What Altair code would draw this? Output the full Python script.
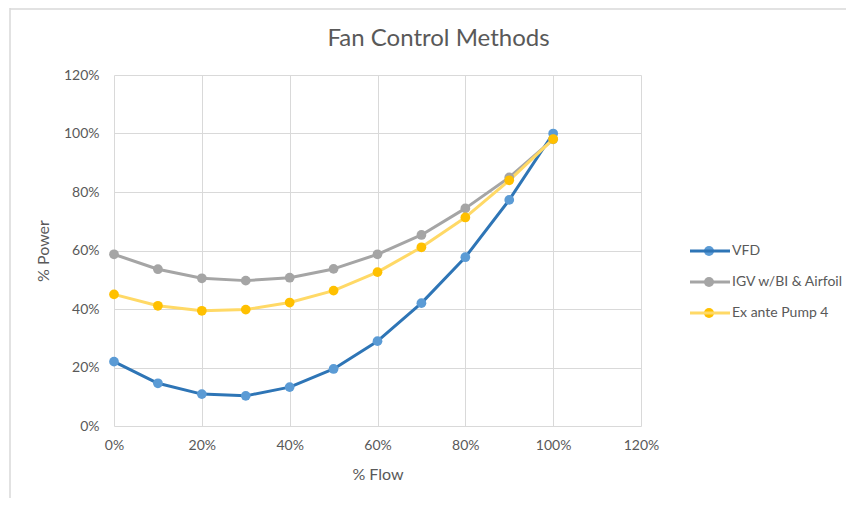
import altair as alt
import pandas as pd

# ---- data ----
flow = [0.0, 0.1, 0.2, 0.3, 0.4, 0.5, 0.6, 0.7, 0.8, 0.9, 1.0]
series_names = ["VFD", "IGV w/BI & Airfoil", "Ex ante Pump 4"]
vfd = [22.0, 14.6, 10.9, 10.3, 13.3, 19.5, 29.0, 42.0, 57.7, 77.3, 100.0]
igv = [58.7, 53.6, 50.5, 49.7, 50.7, 53.7, 58.7, 65.3, 74.4, 85.0, 98.0]
exante = [45.0, 41.1, 39.4, 39.8, 42.2, 46.3, 52.6, 61.1, 71.3, 84.0, 98.1]
tick_values = [0.0, 0.2, 0.4, 0.6, 0.8, 1.0, 1.2]

line_colors = ["#2e75b6", "#a5a5a5", "#ffd966"]
point_colors = ["#5b9bd5", "#a5a5a5", "#ffc000"]

rows = []
for k, (name, vals) in enumerate(zip(series_names, [vfd, igv, exante])):
    for f, v in zip(flow, vals):
        rows.append({"series": name, "order": k, "flow": f, "power": v / 100.0})
df = pd.DataFrame(rows)

FONT = "Lato"
TXT = "#595959"
GRID = "#d9d9d9"
FRAME = "#d9d9d9"

x = alt.X(
    "flow:Q",
    scale=alt.Scale(domain=[0, 1.2], nice=False),
    axis=alt.Axis(values=tick_values, format=".0%", title="% Flow",
                  grid=True, gridColor=GRID, domain=False, ticks=False,
                  labelFlush=False, labelPadding=12, titlePadding=14),
)
y = alt.Y(
    "power:Q",
    scale=alt.Scale(domain=[0, 1.2], nice=False),
    axis=alt.Axis(values=tick_values, format=".0%", title="% Power",
                  grid=True, gridColor=GRID, domain=False, ticks=False,
                  labelFlush=False, labelPadding=15, titlePadding=12),
)

base = alt.Chart(df).encode(x=x, y=y, order=alt.Order("order:Q"))

LINE_SYMBOL = "M-4,0H4"

lines = base.mark_line(strokeWidth=3, strokeCap="round", strokeJoin="round").encode(
    color=alt.Color(
        "series:N",
        sort=series_names,
        scale=alt.Scale(domain=series_names, range=line_colors),
        legend=alt.Legend(orient="none", legendX=589, legendY=169, title=None,
                          symbolType=LINE_SYMBOL, symbolSize=100, symbolStrokeWidth=3,
                          labelFont=FONT, labelFontSize=14, labelColor=TXT,
                          labelOffset=15, rowPadding=17, padding=0),
    ),
    detail="series:N",
)

points = base.mark_point(filled=True, size=95, opacity=1, shape="circle").encode(
    fill=alt.Fill(
        "series:N",
        sort=series_names,
        scale=alt.Scale(domain=series_names, range=point_colors),
        legend=alt.Legend(orient="none", legendX=588, legendY=169, title=None,
                          symbolType="circle", symbolSize=100, symbolStrokeWidth=0,
                          labelFont=FONT, labelFontSize=14, labelOpacity=0,
                          labelOffset=15, rowPadding=17, padding=0),
    ),
)

# light outer chart frame (decoration, left and top edges)
frame_src = alt.Chart(alt.Data(values=[{"k": 0}]))
frame_left = frame_src.mark_rule(color=FRAME, strokeWidth=1.5).encode(
    x=alt.value(-104), y=alt.value(-67), y2=alt.value(430))
frame_top = frame_src.mark_rule(color=FRAME, strokeWidth=1.5).encode(
    x=alt.value(-104), x2=alt.value(740), y=alt.value(-66))

chart = (
    alt.layer(frame_left, frame_top, lines, points)
    .properties(
        width=527,
        height=351,
        title=alt.Title("Fan Control Methods", font=FONT, fontSize=24, fontWeight="normal",
                        color=TXT, anchor="middle", dx=61, offset=-44),
        padding={"left": 106, "top": 67, "right": 205, "bottom": 72},
        autosize=alt.AutoSizeParams(type="none"),
    )
    .resolve_scale(color="independent")
    .configure_view(stroke=None)
    .configure_axis(labelFont=FONT, labelFontSize=14, labelColor=TXT,
                    titleFont=FONT, titleFontSize=16, titleColor=TXT, titleFontWeight="normal")
)

chart.save("out.html", embed_options={"renderer": "svg", "actions": False})
